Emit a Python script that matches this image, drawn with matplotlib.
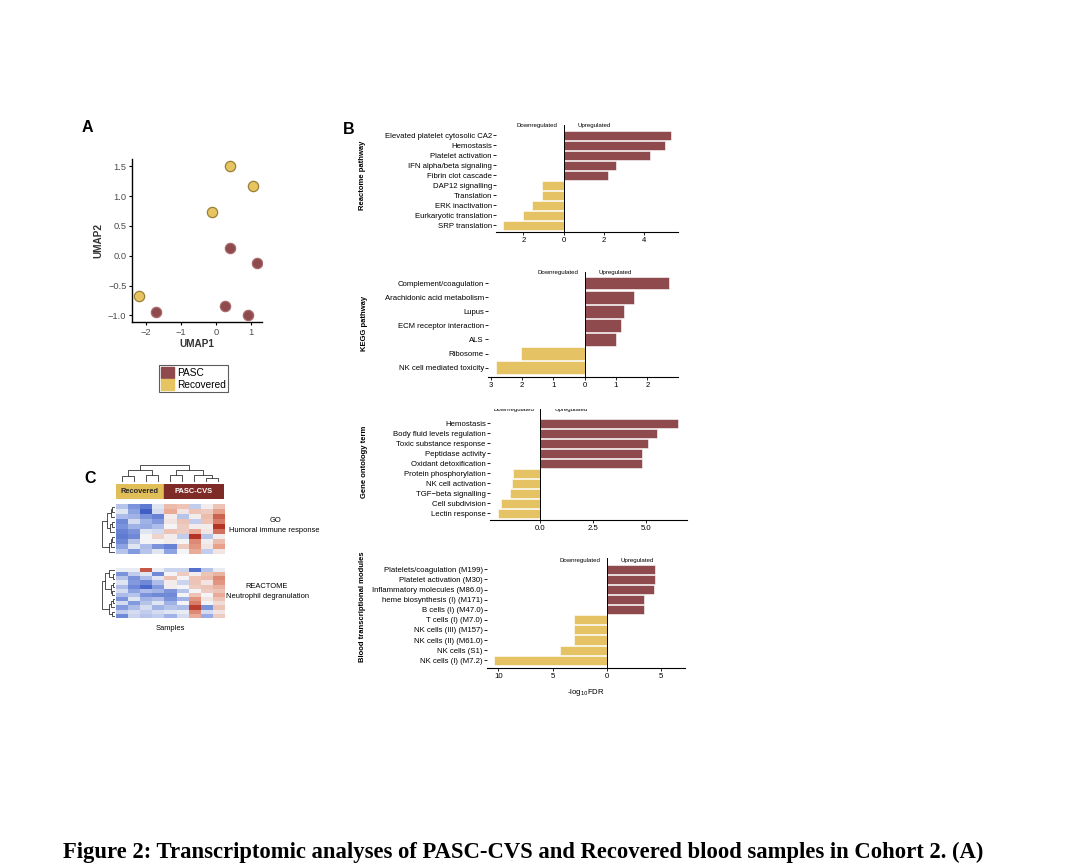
import matplotlib
matplotlib.use('Agg')
import matplotlib.pyplot as plt
import numpy as np
from matplotlib.patches import Patch, Rectangle
from matplotlib.colors import LinearSegmentedColormap

plt.rcParams['font.family'] = ['Liberation Sans', 'DejaVu Sans']

W, H = 1080, 867
RED = '#8E4A4D'
YEL = '#E5C365'

# ---------------- data ----------------
umap_pasc_x = [0.40, 1.19, -1.70, 0.27, 0.91]
umap_pasc_y = [0.13, -0.12, -0.95, -0.84, -1.00]
umap_rec_x = [0.40, 1.05, -0.11, -2.20]
umap_rec_y = [1.50, 1.16, 0.74, -0.68]

reactome_labels = ['Elevated platelet cytosolic CA2', 'Hemostasis', 'Platelet activation',
                   'IFN alpha/beta signaling', 'Fibrin clot cascade', 'DAP12 signalling',
                   'Translation', 'ERK inactivation', 'Eurkaryotic translation', 'SRP translation']
reactome_values = [5.33, 5.03, 4.30, 2.63, 2.22, -1.08, -1.08, -1.58, -2.00, -3.00]

kegg_labels = ['Complement/coagulation', 'Arachidonic acid metabolism', 'Lupus',
               'ECM receptor interaction', 'ALS', 'Ribosome', 'NK cell mediated toxicity']
kegg_values = [2.69, 1.58, 1.25, 1.15, 1.01, -2.04, -2.82]

go_labels = ['Hemostasis', 'Body fluid levels regulation', 'Toxic substance response',
             'Peptidase activity', 'Oxidant detoxification', 'Protein phosphorylation',
             'NK cell activation', 'TGF\u2212beta signalling', 'Cell subdivision', 'Lectin response']
go_values = [6.48, 5.53, 5.06, 4.80, 4.80, -1.26, -1.34, -1.42, -1.83, -2.00]

btm_labels = ['Platelets/coagulation (M199)', 'Platelet activation (M30)',
              'Inflammatory molecules (M86.0)', 'heme biosynthesis (I) (M171)',
              'B cells (I) (M47.0)', 'T cells (I) (M7.0)', 'NK cells (III) (M157)',
              'NK cells (II) (M61.0)', 'NK cells (S1)', 'NK cells (I) (M7.2)']
btm_values = [4.47, 4.47, 4.38, 3.43, 3.43, -3.07, -3.07, -3.07, -4.29, -10.37]

heat_go = np.array([
    [-0.6, -1.2, -1.5, -0.2, 0.7, 0.6, -0.5, 0.1, 0.6],
    [-0.2, -1.0, -1.8, -0.3, 0.9, 0.2, 0.6, 0.5, 1.0],
    [-0.7, -0.8, -1.2, -1.4, 0.1, -0.6, 0.1, 0.7, 1.5],
    [-1.3, -0.3, -0.8, -1.1, 0.2, 0.6, -0.5, 0.6, 1.3],
    [-1.2, -0.8, -0.9, -0.7, 0.0, 0.5, 0.1, 0.1, 1.9],
    [-1.4, -1.2, -0.2, -0.3, 0.6, 0.5, 0.9, 0.2, 1.4],
    [-1.5, -1.3, 0.0, 0.4, 0.1, -0.5, 1.9, -0.6, 0.1],
    [-1.3, -0.6, 0.0, 0.0, 0.1, 0.0, 1.2, 0.1, 0.7],
    [-1.0, -0.2, -0.7, -1.2, -1.4, 0.5, 1.1, 0.2, 1.0],
    [-0.6, -1.1, -0.6, -0.2, -1.0, 0.0, 0.9, -0.5, 0.2],
])
heat_react = np.array([
    [-0.1, -0.1, 1.6, -0.1, -0.4, -0.4, -1.6, -0.6, -0.1],
    [-1.2, -0.5, -0.2, -1.3, 0.0, 0.5, 0.1, 0.6, 0.8],
    [-0.6, -1.2, -0.7, -0.2, 0.6, 0.0, 0.6, 0.7, 1.2],
    [-0.2, -1.1, -1.3, -0.7, 0.1, -0.4, 0.6, 0.2, 1.1],
    [-0.7, -1.3, -1.7, -1.1, 0.1, 0.0, 0.5, 0.6, 0.8],
    [-0.3, -1.0, -0.7, -0.8, -1.2, -0.6, 0.0, 0.5, 0.6],
    [-0.7, -0.6, -1.2, -1.3, -1.3, 0.0, 0.6, 0.0, 0.9],
    [-1.2, -0.2, -0.8, -0.7, -1.2, -0.8, 1.1, 0.2, 0.6],
    [-0.3, -1.1, -0.6, -0.2, -0.8, 0.0, 1.3, 0.0, 0.3],
    [-1.1, -0.7, -0.3, -0.8, -0.6, -0.7, 1.8, -1.2, 0.6],
    [-0.5, -0.3, -0.5, -0.3, -0.2, -0.1, 1.2, -0.3, 0.2],
    [-1.3, -0.4, -0.6, -0.5, -0.8, -0.3, 0.9, -0.9, 0.5],
])
n_recovered, n_pasc = 4, 5

# dendrogram structures (leaf index or (left, right, height))
col_tree = (((0, 1, 0.35), (2, 3, 0.40), 0.70), ((4, 5, 0.40), (6, (7, 8, 0.25), 0.45), 0.70), 1.0)
row_tree_go = ((((0, 1, 0.2), 2, 0.35), ((3, 4, 0.2), 5, 0.4), 0.6), (((6, 7, 0.2), 8, 0.35), 9, 0.5), 1.0)
row_tree_re = (((0, (1, 2, 0.15), 0.5), ((3, 4, 0.15), (5, 6, 0.2), 0.35), 0.8),
               (((7, 8, 0.15), 9, 0.3), (10, 11, 0.2), 0.45), 1.0)

# ---------------- figure ----------------
fig = plt.figure(figsize=(10.8, 8.67), dpi=100)


def px(l, t, r, b):
    return [l / W, 1 - b / H, (r - l) / W, (b - t) / H]


def fx(x):
    return x / W


def fy(y):
    return 1 - y / H


# ---- Panel A: UMAP ----
axA = fig.add_axes(px(132, 159, 262, 322))
axA.scatter(umap_rec_x, umap_rec_y, s=55, color='#E6C462', edgecolor='#9A8035', linewidth=0.9, zorder=3)
axA.scatter(umap_pasc_x, umap_pasc_y, s=55, color='#8E4A4D', edgecolor='#A86A6C', linewidth=0.9, zorder=3)
axA.set_xlim(-2.4, 1.32)
axA.set_ylim(-1.11, 1.62)
axA.set_xticks([-2, -1, 0, 1])
axA.set_xticklabels(['\u22122', '\u22121', '0', '1'])
axA.set_yticks([-1.0, -0.5, 0.0, 0.5, 1.0, 1.5])
axA.set_yticklabels(['\u22121.0', '\u22120.5', '0.0', '0.5', '1.0', '1.5'])
for s in ['top', 'right']:
    axA.spines[s].set_visible(False)
for s in ['left', 'bottom']:
    axA.spines[s].set_linewidth(1.0)
axA.tick_params(labelsize=6.7, labelcolor='#4d4d4d', length=2.5, width=0.8, pad=1.5)
axA.set_xlabel('UMAP1', fontsize=7.2, fontweight='bold', color='#333333', labelpad=2)
axA.set_ylabel('UMAP2', fontsize=7.2, fontweight='bold', color='#333333', labelpad=3)
leg = axA.legend(handles=[Patch(color='#8E4A4D', label='PASC'), Patch(color='#E6C462', label='Recovered')],
                 loc='upper left', bbox_to_anchor=(fx(159), fy(365)), bbox_transform=fig.transFigure,
                 fontsize=7.3, frameon=True, fancybox=False, edgecolor='#333333', handlelength=1.3,
                 handleheight=1.3, handletextpad=0.25, borderpad=0.2, labelspacing=0.1, borderaxespad=0)
leg.get_frame().set_linewidth(0.8)

# ---- Panel B: bar panels ----
PX_PT = 0.72


def bar_panel(rect, labels, values, ylabel, ylabel_xy, xlim, ylim, xticks, xticklabels,
              top_row, text_row, clip_text=False, xlabel=None, height=0.9):
    ax = fig.add_axes(px(*rect))
    y = np.arange(len(labels))
    colors = [RED if v > 0 else YEL for v in values]
    ax.barh(y, values, height=height, color=colors, edgecolor='white', linewidth=0.4, zorder=2)
    ax.set_xlim(xlim)
    ax.set_ylim(ylim)
    ax.set_yticks(y)
    ax.set_yticklabels(labels, fontsize=5.6)
    ax.set_xticks(xticks)
    ax.set_xticklabels(xticklabels, fontsize=5.6)
    ax.plot([0, 0], [top_row, ylim[0]], color='black', lw=0.7, zorder=3, clip_on=False)
    for s in ['top', 'right', 'left']:
        ax.spines[s].set_visible(False)
    ax.spines['bottom'].set_linewidth(0.8)
    ax.tick_params(axis='y', length=2, width=0.6, pad=1)
    ax.tick_params(axis='x', length=2, width=0.6, pad=1.5)
    ax.annotate('Downregulated', xy=(0, text_row), xytext=(-6 * PX_PT, 0), textcoords='offset points',
                ha='right', va='center', fontsize=4.4, annotation_clip=False, clip_on=clip_text)
    ax.annotate('Upregulated', xy=(0, text_row), xytext=(14 * PX_PT, 0), textcoords='offset points',
                ha='left', va='center', fontsize=4.4, annotation_clip=False, clip_on=clip_text)
    fig.text(fx(ylabel_xy[0]), fy(ylabel_xy[1]), ylabel, rotation=90, ha='center', va='center',
             fontsize=5.5, fontweight='bold')
    if xlabel:
        ax.set_xlabel(xlabel, fontsize=5.6, labelpad=5)
    return ax


bar_panel((496, 122, 678, 232), reactome_labels, reactome_values, 'Reactome pathway', (362, 175),
          (-3.37, 5.7), (9.67, -1.3), [-2, 0, 2, 4], ['2', '0', '2', '4'], -1.0, -0.95)
bar_panel((488, 268, 678, 377), kegg_labels, kegg_values, 'KEGG pathway', (364, 323),
          (-3.09, 2.98), (6.67, -1.09), [-3, -2, -1, 0, 1, 2], ['3', '2', '1', '0', '1', '2'], -0.83, -0.8,
          height=0.88)
axGO = bar_panel((490, 409, 687, 520), go_labels, go_values, 'Gene ontology term', (364, 462),
                 (-2.36, 6.92), (9.67, -1.43), [0, 2.5, 5.0], ['0.0', '2.5', '5.0'], -1.43, -1.43,
                 clip_text=True)
bar_panel((487, 556, 685, 668), btm_labels, btm_values, 'Blood transcriptional modules', (362, 607),
          (-11.04, 7.2), (9.77, -1.32), [-10, -5, 0, 5], ['10', '5', '0', '5'], -1.1, -0.92,
          xlabel='-log$_{10}$FDR')

# ---- Panel C: heatmaps ----
cmap = LinearSegmentedColormap.from_list('bwr2', ['#2E50C0', '#8EA4E2', '#F5F5F7', '#E8A38C', '#B0281A'])


def draw_tree(ax, node, orient):
    # returns (position, height)
    if isinstance(node, int):
        return node, 0.0
    l, r, h = node
    pl, hl = draw_tree(ax, l, orient)
    pr, hr = draw_tree(ax, r, orient)
    if orient == 'top':
        ax.plot([pl, pl, pr, pr], [hl, h, h, hr], color='#333333', lw=0.6)
    else:
        ax.plot([-hl, -h, -h, -hr], [pl, pl, pr, pr], color='#333333', lw=0.6)
    return (pl + pr) / 2, h


axD = fig.add_axes(px(115.7, 465, 224, 482))
draw_tree(axD, col_tree, 'top')
axD.set_xlim(-0.5, 8.5)
axD.set_ylim(0, 1.03)
axD.axis('off')

axAnn = fig.add_axes(px(115.7, 484, 224, 499.3))
axAnn.add_patch(Rectangle((-0.5, 0), n_recovered, 1, color='#E2BE58'))
axAnn.add_patch(Rectangle((-0.5 + n_recovered, 0), n_pasc, 1, color='#7E2A26'))
axAnn.text(-0.5 + n_recovered / 2, 0.5, 'Recovered', ha='center', va='center', fontsize=5.4,
           fontweight='bold', color='#2a2a2a')
axAnn.text(-0.5 + n_recovered + n_pasc / 2, 0.5, 'PASC-CVS', ha='center', va='center', fontsize=5.4,
           fontweight='bold', color='white')
axAnn.set_xlim(-0.5, 8.5)
axAnn.set_ylim(0, 1)
axAnn.axis('off')

for mat, tree, (t, b) in [(heat_go, row_tree_go, (504.3, 554.3)), (heat_react, row_tree_re, (568.3, 617.7))]:
    axH = fig.add_axes(px(115.7, t, 224, b))
    axH.imshow(mat, cmap=cmap, vmin=-2, vmax=2, aspect='auto', interpolation='nearest')
    axH.axis('off')
    axR = fig.add_axes(px(101.7, t, 115, b))
    draw_tree(axR, tree, 'left')
    axR.set_ylim(mat.shape[0] - 0.5, -0.5)
    axR.set_xlim(-1.05, 0)
    axR.axis('off')

fig.text(fx(276), fy(521), 'GO', ha='center', va='center', fontsize=5.4)
fig.text(fx(274), fy(531), 'Humoral immune response', ha='center', va='center', fontsize=5.4)
fig.text(fx(267), fy(587), 'REACTOME', ha='center', va='center', fontsize=5.4)
fig.text(fx(268), fy(597), 'Neutrophil degranulation', ha='center', va='center', fontsize=5.4)
fig.text(fx(170), fy(628), 'Samples', ha='center', va='center', fontsize=5.4)

# ---- panel letters ----
fig.text(fx(87), fy(128), 'A', ha='center', va='center', fontsize=11.5, fontweight='bold')
fig.text(fx(349), fy(130), 'B', ha='center', va='center', fontsize=11.5, fontweight='bold')
fig.text(fx(90), fy(478), 'C', ha='center', va='center', fontsize=11.5, fontweight='bold')

# ---- caption ----
fig.text(fx(63), fy(852), 'Figure 2: Transcriptomic analyses of PASC-CVS and Recovered blood samples in Cohort 2. (A)',
         ha='left', va='center', fontsize=16.3, fontweight='bold', family='Liberation Serif')

fig.savefig('out.png', dpi=100)
